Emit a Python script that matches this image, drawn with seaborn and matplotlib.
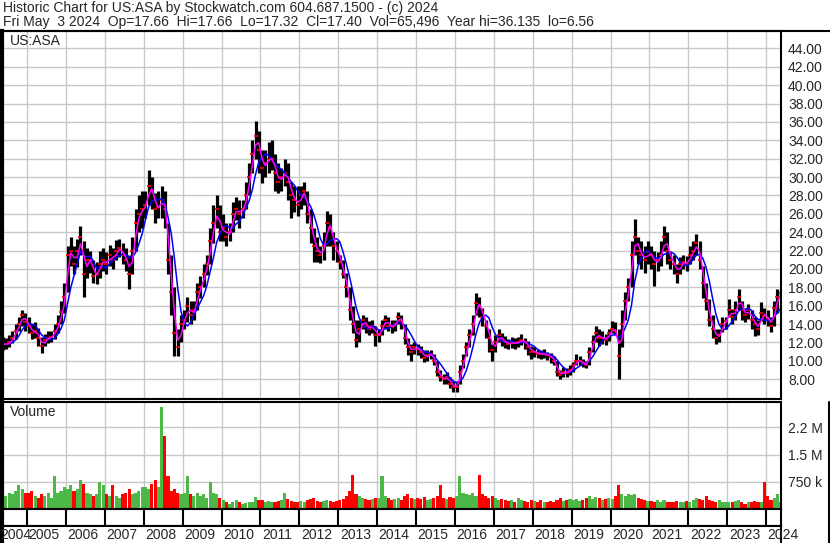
import numpy as np
import pandas as pd
import matplotlib
matplotlib.use('Agg')
import matplotlib.pyplot as plt
from matplotlib.lines import Line2D
import seaborn as sns

# monthly values, May 2004 .. May 2024 (one row per year)
close = [11.8, 11.8, 12.0, 12.5, 13.3, 14.0, 15.0, 14.2,
         13.8, 13.0, 13.3, 12.5, 11.6, 12.3, 12.5, 12.6, 13.2, 14.0, 15.3, 17.0,
         21.5, 22.0, 20.5, 22.0, 23.5, 19.5, 21.0, 21.0, 19.2, 19.5, 20.5, 21.0,
         20.5, 21.5, 21.0, 22.0, 22.3, 21.5, 21.0, 19.5, 22.0, 25.0, 26.0, 26.5,
         27.0, 29.0, 28.5, 26.5, 26.8, 27.5, 26.5, 21.0, 17.5, 13.0, 11.5, 14.0,
         14.5, 16.0, 15.0, 15.5, 17.5, 18.0, 19.5, 20.5, 23.0, 25.0, 26.5, 24.0,
         24.5, 23.5, 24.0, 26.0, 26.5, 26.0, 26.5, 28.0, 30.0, 32.5, 34.5, 33.0,
         31.0, 31.5, 32.0, 32.0, 30.5, 29.5, 30.0, 30.5, 29.5, 28.0, 27.5, 27.0,
         28.0, 28.5, 26.0, 24.5, 22.5, 22.0, 21.5, 22.5, 25.0, 24.5, 22.5, 22.0,
         20.8, 19.5, 18.0, 15.5, 14.0, 12.3, 13.5, 14.5, 13.8, 13.5, 13.8, 12.8,
         12.8, 13.8, 14.5, 13.8, 13.7, 14.0, 14.8, 14.3, 12.5, 11.5, 11.0, 11.5,
         11.3, 11.0, 10.3, 10.6, 10.8, 10.0, 8.8, 8.2, 8.0, 8.2, 7.5, 7.2,
         7.2, 8.8, 10.0, 11.5, 12.8, 14.0, 16.3, 16.0, 14.8, 13.8, 12.5, 11.2,
         12.0, 12.8, 12.2, 12.0, 11.8, 12.0, 11.9, 12.0, 12.3, 12.0, 11.5, 11.0,
         11.0, 10.8, 10.7, 10.8, 10.6, 10.4, 10.0, 8.8, 8.5, 8.8, 8.7, 9.0,
         9.5, 10.0, 10.0, 9.7, 9.5, 11.0, 12.0, 13.0, 12.5, 12.5, 12.3, 13.0,
         13.5, 13.3, 10.5, 14.0, 16.5, 18.0, 21.5, 23.5, 22.0, 21.5, 21.0, 21.8,
         21.5, 20.5, 21.0, 21.5, 23.5, 22.0, 21.0, 20.5, 19.5, 20.5, 20.8, 20.5,
         21.5, 22.0, 22.8, 21.0, 18.5, 16.5, 14.5, 13.5, 12.5, 12.8, 14.0, 14.3,
         15.5, 14.8, 15.5, 17.0, 15.5, 15.0, 15.5, 14.5, 14.0, 13.5, 15.2, 14.9,
         14.6, 13.8, 15.8, 17.0, 17.4]

high = [12.6, 12.5, 12.8, 13.2, 14.0, 14.8, 15.5, 15.2,
        14.8, 14.0, 14.2, 13.6, 12.6, 12.9, 13.2, 13.3, 14.0, 15.0, 16.5, 18.5,
        22.5, 23.5, 22.5, 23.3, 24.7, 23.0, 22.3, 22.0, 21.0, 20.8, 22.0, 22.3,
        21.8, 22.6, 22.3, 23.2, 23.3, 22.8, 22.3, 21.5, 23.5, 26.5, 28.0, 28.5,
        28.5, 30.8, 30.0, 28.3, 28.5, 29.0, 28.5, 25.0, 21.5, 18.0, 13.5, 15.0,
        15.5, 17.0, 16.5, 16.5, 18.5, 19.2, 20.5, 21.5, 24.5, 27.0, 28.0, 27.0,
        26.0, 25.0, 25.0, 27.3, 27.8, 27.5, 27.5, 29.5, 31.5, 34.0, 36.1, 35.0,
        33.0, 33.0, 33.8, 34.0, 32.5, 31.5, 31.0, 32.0, 31.5, 29.5, 29.0, 29.0,
        29.0, 29.5, 28.5, 26.5, 24.5, 23.5, 22.5, 24.0, 26.3, 26.0, 24.0, 23.0,
        21.5, 21.0, 19.6, 18.0, 16.0, 14.5, 14.5, 15.0, 14.8, 14.3, 14.5, 13.8,
        13.5, 14.5, 15.0, 14.8, 14.5, 14.5, 15.3, 15.0, 14.0, 12.5, 11.8, 12.0,
        11.8, 11.6, 11.2, 11.2, 11.2, 10.8, 10.0, 9.0, 8.6, 8.8, 8.2, 7.8,
        7.8, 9.5, 10.8, 12.0, 13.5, 15.0, 17.4, 17.0, 15.8, 14.5, 13.5, 11.8,
        12.8, 13.5, 13.0, 12.7, 12.4, 12.6, 12.5, 12.6, 12.9, 12.5, 12.2, 11.6,
        11.5, 11.3, 11.2, 11.3, 11.0, 10.9, 10.5, 10.0, 9.0, 9.3, 9.2, 9.6,
        9.9, 10.7, 10.5, 10.2, 10.0, 11.5, 12.8, 13.8, 13.5, 13.2, 12.9, 13.5,
        14.3, 14.2, 13.5, 15.5, 17.5, 19.0, 23.0, 25.4, 23.5, 23.0, 22.5, 23.0,
        22.5, 22.0, 21.8, 23.0, 24.7, 24.0, 22.0, 21.5, 20.5, 21.3, 21.5, 21.4,
        22.5, 23.0, 23.8, 23.0, 20.3, 18.5, 16.7, 15.0, 13.5, 13.5, 14.8, 14.8,
        16.7, 15.6, 16.5, 17.8, 16.5, 15.8, 16.2, 15.5, 14.8, 14.5, 16.4, 15.8,
        15.5, 14.8, 16.5, 17.8, 17.7]

low = [11.2, 11.3, 11.5, 11.9, 12.4, 13.2, 13.8, 13.3,
       13.0, 12.4, 12.5, 11.6, 10.9, 11.6, 11.9, 12.0, 12.4, 13.0, 14.0, 15.2,
       17.5, 20.3, 19.5, 20.2, 21.5, 17.0, 19.0, 19.6, 18.5, 18.4, 19.0, 19.8,
       19.5, 20.3, 20.0, 21.0, 21.3, 20.5, 19.8, 17.8, 19.5, 22.0, 24.0, 24.5,
       25.5, 27.0, 26.5, 25.0, 25.5, 25.5, 24.5, 19.5, 15.0, 10.5, 10.5, 12.0,
       13.5, 14.2, 14.0, 14.5, 15.5, 16.8, 18.0, 19.3, 20.5, 22.8, 24.5, 23.0,
       23.0, 22.5, 23.0, 24.0, 25.3, 24.5, 25.5, 26.5, 28.0, 30.5, 32.0, 30.5,
       29.4, 30.0, 30.5, 30.8, 28.5, 28.3, 28.5, 29.0, 27.5, 25.5, 26.2, 25.8,
       26.5, 27.0, 25.0, 22.8, 20.8, 20.8, 20.7, 21.0, 22.5, 22.5, 21.0, 20.8,
       20.0, 19.0, 17.0, 14.5, 13.0, 11.5, 12.0, 13.5, 13.0, 12.8, 13.0, 11.6,
       12.0, 12.8, 13.5, 13.2, 13.0, 13.2, 14.0, 13.5, 11.8, 10.6, 10.0, 10.7,
       10.6, 10.3, 9.9, 10.0, 10.2, 9.5, 8.3, 7.8, 7.5, 7.5, 7.0, 6.6,
       6.6, 7.5, 9.2, 10.5, 11.5, 12.8, 15.0, 14.8, 13.8, 12.5, 11.0, 10.0,
       11.0, 12.0, 11.6, 11.4, 11.3, 11.4, 11.3, 11.5, 11.7, 11.3, 10.6, 10.2,
       10.4, 10.3, 10.2, 10.3, 10.1, 9.8, 9.5, 8.3, 8.0, 8.2, 8.2, 8.5,
       8.8, 9.5, 9.6, 9.3, 9.2, 9.6, 11.0, 12.0, 11.6, 11.8, 11.7, 12.2,
       13.0, 12.8, 8.0, 11.5, 14.5, 16.5, 18.0, 21.5, 20.5, 20.0, 19.6, 20.5,
       20.0, 18.1, 19.8, 20.3, 22.0, 20.5, 20.0, 19.5, 18.5, 19.5, 20.0, 19.8,
       20.5, 21.0, 21.5, 20.0, 16.8, 15.5, 13.8, 12.5, 11.8, 12.0, 13.1, 13.5,
       14.8, 14.0, 14.5, 15.5, 14.5, 14.2, 14.6, 13.5, 12.7, 12.8, 14.3, 14.0,
       13.8, 13.1, 13.8, 15.2, 17.3]

# volume in thousands of shares
volume = [650, 350, 450, 400, 500, 650, 550, 450,
          450, 500, 350, 300, 400, 350, 450, 300, 900, 450, 500, 600,
          550, 650, 500, 550, 800, 700, 450, 400, 350, 400, 750, 650,
          400, 350, 650, 350, 300, 400, 450, 550, 400, 450, 500, 600,
          600, 550, 700, 800, 600, 2800, 2000, 900, 500, 550, 450, 400,
          450, 900, 400, 350, 450, 350, 400, 300, 750, 450, 400, 300,
          250, 200, 150, 180, 250, 200, 150, 160, 180, 200, 320, 250,
          250, 200, 220, 180, 200, 230, 250, 440, 280, 220, 200, 180,
          220, 200, 250, 280, 300, 220, 200, 230, 260, 220, 200, 220,
          250, 280, 350, 500, 950, 400, 350, 300, 280, 250, 280, 300,
          300, 900, 350, 300, 250, 280, 300, 250, 350, 400, 300, 280,
          300, 280, 320, 250, 280, 300, 350, 650, 300, 280, 320, 300,
          350, 900, 450, 400, 380, 450, 350, 950, 400, 350, 300, 350,
          300, 250, 280, 250, 220, 250, 200, 300, 250, 220, 200, 250,
          220, 200, 250, 200, 180, 220, 200, 250, 300, 220, 250, 280,
          250, 280, 220, 250, 300, 350, 280, 320, 300, 250, 280, 300,
          280, 350, 650, 400, 350, 400, 380, 420, 300, 280, 250, 220,
          220, 200, 250, 180, 250, 200, 180, 200, 220, 180, 200, 220,
          200, 250, 300, 280, 250, 350, 250, 220, 200, 250, 200, 180,
          180, 200, 220, 250, 180, 150, 200, 180, 220, 180, 200, 750,
          350, 250, 300, 400, 200]

years = list(range(2004, 2025))
price_ticks = list(range(8, 46, 2))
vol_ticks = [750, 1500, 2250]
vol_labels = ['750 k', '1.5 M', '2.2 M']

months = pd.date_range('2004-05-01', periods=len(close), freq='MS')
df = pd.DataFrame({'t': months.year + (months.month - 0.5) / 12,
                   'close': close, 'high': high, 'low': low, 'vol': volume})
df['ma_fast'] = df['close'].rolling(2, min_periods=1).mean()
df['ma_slow'] = df['close'].rolling(5, min_periods=1).mean()
df['up'] = df['close'].diff().fillna(0) >= 0

sns.set_style('white')
plt.rcParams['font.family'] = ['Liberation Sans', 'DejaVu Sans']

W, H = 830, 543
fig = plt.figure(figsize=(W / 100, H / 100), dpi=100)

def box(x0, y0, x1, y1):
    return fig.add_axes([x0 / W, 1 - y1 / H, (x1 - x0) / W, (y1 - y0) / H])

px_year = 38.9
xmin = 2005 - 25 / px_year
xmax = 2005 + 754 / px_year
grid_c = '#c8c8c8'

# header
fig.text(3 / W, 1 - 8 / H, 'Historic Chart for US:ASA by Stockwatch.com 604.687.1500 - (c) 2024',
         fontsize=10, va='center')
fig.text(3 / W, 1 - 22 / H, 'Fri May  3 2024  Op=17.66  Hi=17.66  Lo=17.32  Cl=17.40  Vol=65,496  Year hi=36.135  lo=6.56',
         fontsize=10, va='center')
fig.add_artist(Line2D([0, 1], [1 - 30.5 / H, 1 - 30.5 / H], color='black', lw=1.5))

# price panel
ax = box(2, 31, 781, 399)
ax.vlines(df['t'], df['low'], df['high'], color='black', lw=2.3)
ax.plot(df['t'], df['close'], ls='none', marker='_', color='red', ms=3, mew=1.2)
sns.lineplot(data=df, x='t', y='ma_slow', color='blue', lw=1.1, ax=ax)
sns.lineplot(data=df, x='t', y='ma_fast', color='magenta', lw=1.1, ax=ax)
ax.set_xlim(xmin, xmax)
ax.set_ylim(5.85, 45.9)
ax.set_xticks(years[1:])
ax.set_xticklabels([])
ax.set_yticks(price_ticks)
ax.set_yticklabels([f'{v:.2f}' for v in price_ticks])
ax.yaxis.tick_right()
ax.tick_params(length=0, labelsize=10, pad=5)
ax.set_xlabel('')
ax.set_ylabel('')
ax.grid(True, color=grid_c, lw=1)
ax.text(8 / 779, 1 - 10 / 368, 'US:ASA', transform=ax.transAxes, fontsize=10, va='center')

# volume panel
axv = box(2, 402, 781, 509)
axv.bar(df['t'], df['vol'], width=1 / 12 * 0.95,
        color=np.where(df['up'], '#4cb848', '#ff0000'), linewidth=0)
axv.set_xlim(xmin, xmax)
axv.set_ylim(0, 2950)
axv.set_xticks(years[1:])
axv.set_xticklabels([])
axv.set_yticks(vol_ticks)
axv.set_yticklabels(vol_labels)
axv.yaxis.tick_right()
axv.tick_params(length=0, labelsize=10, pad=5)
axv.grid(True, color=grid_c, lw=1)
axv.text(8 / 779, 1 - 10 / 107, 'Volume', transform=axv.transAxes, fontsize=10, va='center')

# tick band and year labels
axt = box(2, 509, 781, 526)
axt.set_xlim(xmin, xmax)
axt.set_xticks([])
axt.set_yticks([])
axt.vlines(years[1:], 0, 1, color='black', lw=1.5)

axl = box(2, 526, 781, 543)
axl.set_xlim(xmin, xmax)
axl.set_xticks([])
axl.set_yticks([])
for y in years:
    axl.text(max(y, xmin - 0.08) + 0.04, 0.45, str(y), fontsize=10, va='center',
             clip_on=False)

for a in (ax, axv, axt, axl):
    for s in a.spines.values():
        s.set_color('black')
        s.set_linewidth(1.5)
    a.spines['left'].set_linewidth(3)
axl.spines['bottom'].set_visible(False)

fig.add_artist(Line2D([828.5 / W, 828.5 / W], [0, 1 - 402 / H], color='black', lw=1.5))

fig.savefig('out.png', dpi=100, facecolor='w')
